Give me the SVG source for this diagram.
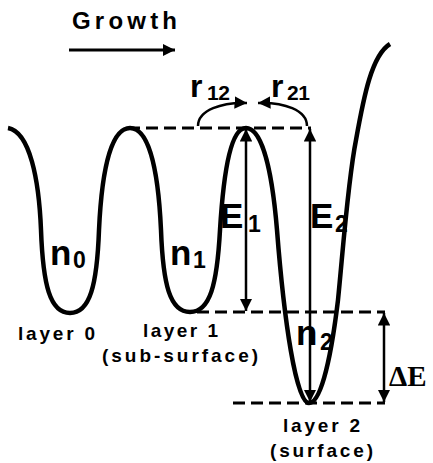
<svg xmlns="http://www.w3.org/2000/svg" width="433" height="463" viewBox="0 0 433 463">
<defs>
<marker id="ah" viewBox="0 0 10 10" refX="10" refY="5" markerWidth="4" markerHeight="4" orient="auto-start-reverse" markerUnits="strokeWidth">
<path d="M0,0 L10,5 L0,10 Z" fill="#000"/>
</marker>
<marker id="ahs" viewBox="0 0 10 10" refX="10" refY="5" markerWidth="5" markerHeight="5" orient="auto-start-reverse" markerUnits="strokeWidth">
<path d="M0,0 L10,5 L0,10 Z" fill="#000"/>
</marker>
</defs>
<style>
.t{font-family:"Liberation Sans",Arial,sans-serif;font-weight:bold;fill:#000}
.big{font-size:35px}
.sub{font-size:23px}
.lab{font-size:19px}
.dash{stroke:#000;stroke-width:3;stroke-dasharray:12 6;fill:none}
.arr{stroke:#000;stroke-width:2.5;fill:none}
</style>
<rect width="433" height="463" fill="#fff"/>
<g id="growth">
<text class="t" x="72" y="29" font-size="24" textLength="105" lengthAdjust="spacing">Growth</text>
<line x1="69" y1="50" x2="175" y2="50" stroke="#000" stroke-width="3" marker-end="url(#ah)"/>
</g>
<g id="potential">
<path d="M8,128 C30,132 39,180 41,230 C43,285 50,313 70,313 C90,313 97,285 99,230 C102,165 112,128 130,128 C148,128 158,165 161,230 C163,285 170,312 190,312 C210,312 217,285 220,230 C224,165 232,128 246,128 C262,128 272,170 277,230 C284,320 296,403 309,403 C322,403 332,350 338,300 C343,250 348,180 356,140 C364,95 372,55 390,44" fill="none" stroke="#000" stroke-width="4.5"/>
</g>
<g id="connectors">
<line class="dash" x1="128" y1="128" x2="311" y2="128"/>
<line class="dash" x1="197" y1="312" x2="385" y2="312"/>
<line class="dash" x1="233" y1="403" x2="385" y2="403"/>
<line class="arr" x1="246" y1="129" x2="246" y2="311" marker-start="url(#ahs)" marker-end="url(#ahs)"/>
<line class="arr" x1="310" y1="129" x2="310" y2="402" marker-start="url(#ahs)" marker-end="url(#ahs)"/>
<line class="arr" x1="384" y1="313" x2="384" y2="402" marker-start="url(#ahs)" marker-end="url(#ahs)"/>
<path class="arr" d="M198,126 C198,110 222,102 247,103" marker-end="url(#ahs)"/>
<path class="arr" d="M307,126 C307,110 284,102 258,103" marker-end="url(#ahs)"/>
</g>
<g id="labels">
<text class="t" x="190" y="97" font-size="32">r</text>
<text class="t" x="207" y="100" font-size="21" textLength="23" lengthAdjust="spacing">12</text>
<text class="t" x="271" y="97" font-size="32">r</text>
<text class="t" x="287" y="100" font-size="21" textLength="23" lengthAdjust="spacing">21</text>
<text class="t big" x="220" y="228">E</text>
<text class="t sub" x="248" y="232">1</text>
<text class="t big" x="310" y="228">E</text>
<text class="t sub" x="335" y="232">2</text>
<text class="t big" x="50" y="265">n</text>
<text class="t sub" x="73" y="268">0</text>
<text class="t big" x="170" y="265">n</text>
<text class="t sub" x="193" y="268">1</text>
<text class="t big" x="296" y="345">n</text>
<text class="t sub" x="320" y="350">2</text>
<text x="389" y="386" font-family="'Liberation Serif','Times New Roman',serif" font-weight="bold" font-size="29">ΔE</text>
<text class="t lab" x="18" y="340" textLength="77" lengthAdjust="spacing">layer 0</text>
<text class="t lab" x="143" y="337" textLength="75" lengthAdjust="spacing">layer 1</text>
<text class="t lab" x="102" y="362" textLength="156" lengthAdjust="spacing">(sub-surface)</text>
<text class="t lab" x="283" y="432" textLength="77" lengthAdjust="spacing">layer 2</text>
<text class="t lab" x="270" y="457" textLength="103" lengthAdjust="spacing">(surface)</text>
</g>
</svg>
